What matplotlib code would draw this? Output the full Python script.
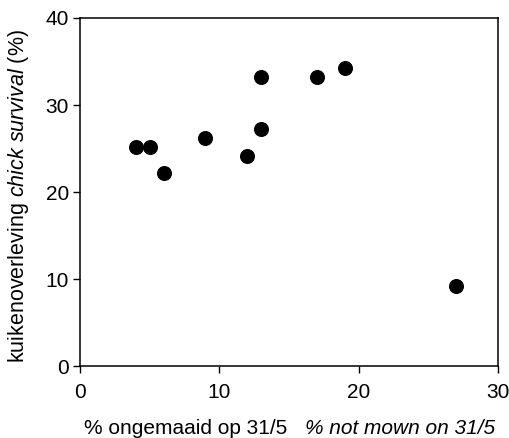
import matplotlib.pyplot as plt

plt.rcParams["font.family"] = "Liberation Sans"
plt.rcParams["mathtext.fontset"] = "custom"
plt.rcParams["mathtext.rm"] = "Liberation Sans"
plt.rcParams["mathtext.it"] = "Liberation Sans:italic"

# % not mown on 31/5 vs chick survival (%)
not_mown = [4, 5, 6, 9, 12, 13, 13, 17, 19, 27]
survival = [25.2, 25.2, 22.2, 26.2, 24.2, 27.2, 33.2, 33.2, 34.2, 9.2]

fig = plt.figure(figsize=(5.10, 4.38), dpi=100)
ax = fig.add_axes([0.157, 0.164, 0.819, 0.795])

ax.plot(not_mown, survival, "o", color="black", markersize=9.8, linestyle="none")

ax.set_xlim(0, 30)
ax.set_ylim(0, 40)
ax.set_xticks([0, 10, 20, 30])
ax.set_yticks([0, 10, 20, 30, 40])
ax.tick_params(axis="both", direction="out", length=5, width=1, labelsize=15)
ax.tick_params(axis="x", pad=7)
ax.tick_params(axis="y", pad=3)
for s in ax.spines.values():
    s.set_linewidth(1.1)

ax.set_ylabel(r"kuikenoverleving $\mathit{chick\ survival}$ (%)", fontsize=15.5)
ax.yaxis.set_label_coords(-0.118, 0.49)
fig.text(287 / 510, 1 - 429 / 438, "% ongemaaid op 31/5", ha="right", va="center", fontsize=15)
fig.text(305 / 510, 1 - 429 / 438, "% not mown on 31/5", ha="left", va="center",
         fontsize=15, style="italic")

fig.savefig("out.png", dpi=100)
